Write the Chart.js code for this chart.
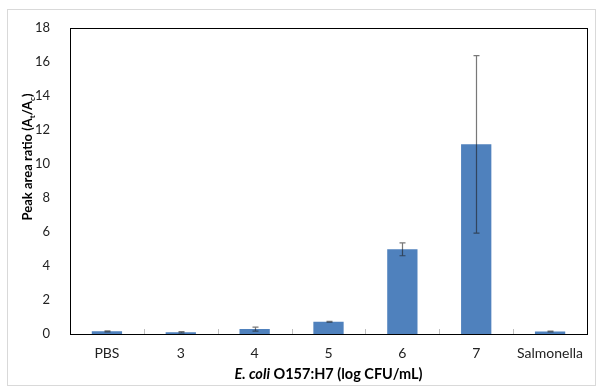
<!DOCTYPE html>
<html>
<head>
<meta charset="utf-8">
<script src="https://cdn.jsdelivr.net/npm/chart.js@4"></script>
<style>
  html, body { margin: 0; padding: 0; background: #fff; }
  #wrap { position: relative; width: 602px; height: 387px; }
  #frame { position: absolute; left: 7px; top: 9px; width: 589px; height: 377px; border: 1px solid #d9d9d9; box-sizing: border-box; }
  canvas { position: absolute; left: 0; top: 0; }
</style>
</head>
<body>
<div id="wrap">
  <div id="frame"></div>
  <canvas id="chart" width="602" height="387"></canvas>
</div>
<script>
// data
const categories = ['PBS', '3', '4', '5', '6', '7', 'Salmonella'];
const ratioValues = [0.16, 0.1, 0.29, 0.72, 4.98, 11.15, 0.15];
const ratioErrors = [0.03, 0.04, 0.12, 0.03, 0.38, 5.22, 0.02];
const yTicks = [0, 2, 4, 6, 8, 10, 12, 14, 16, 18];

const FONT = 'Lato, "Open Sans", sans-serif';

// error bars + box + little category ticks + axis titles
const extras = {
    id: 'extras',
    afterDatasetsDraw(chart) {
        const ctx = chart.ctx;
        const y = chart.scales.y;
        const meta = chart.getDatasetMeta(0);
        ctx.save();
        ctx.strokeStyle = 'rgba(30,30,30,0.6)';
        ctx.lineWidth = 1.2;
        meta.data.forEach((bar, i) => {
            const cx = Math.round(bar.x) + 0.5;
            const top = y.getPixelForValue(ratioValues[i] + ratioErrors[i]);
            const bot = y.getPixelForValue(ratioValues[i] - ratioErrors[i]);
            ctx.beginPath();
            ctx.moveTo(cx, top); ctx.lineTo(cx, bot);
            ctx.moveTo(cx - 3, top); ctx.lineTo(cx + 3, top);
            ctx.moveTo(cx - 3, bot); ctx.lineTo(cx + 3, bot);
            ctx.stroke();
        });
        ctx.restore();
    },
    afterDraw(chart) {
        const ctx = chart.ctx;
        const a = chart.chartArea;
        const x = chart.scales.x;
        ctx.save();
        // small ticks between categories
        ctx.strokeStyle = '#bfbfbf';
        ctx.lineWidth = 1;
        for (let i = 1; i < categories.length; i++) {
            const px = Math.round((x.getPixelForValue(i - 1) + x.getPixelForValue(i)) / 2) + 0.5;
            ctx.beginPath();
            ctx.moveTo(px, a.bottom - 5);
            ctx.lineTo(px, a.bottom);
            ctx.stroke();
        }
        // plot box
        ctx.strokeStyle = '#000';
        ctx.lineWidth = 1;
        ctx.strokeRect(Math.round(a.left) + 0.5, Math.round(a.top) + 0.5,
            Math.round(a.right - a.left), Math.round(a.bottom - a.top));

        // y title with subscripts, rotated
        ctx.fillStyle = '#000';
        ctx.translate(27, 157);
        ctx.rotate(-Math.PI / 2);
        const big = 'bold 13px ' + FONT, small = 'bold 8px ' + FONT;
        const parts = [
            ['Peak area ratio (A', big, 0], ['t', small, 4],
            ['/A', big, 0], ['c', small, 4], [')', big, 0]
        ];
        let w = 0;
        parts.forEach(p => { ctx.font = p[1]; w += ctx.measureText(p[0]).width; });
        let px = -w / 2;
        ctx.textBaseline = 'middle';
        parts.forEach(p => {
            ctx.font = p[1];
            ctx.fillText(p[0], px, p[2] + 1);
            px += ctx.measureText(p[0]).width;
        });
        ctx.setTransform(1, 0, 0, 1, 0, 0);

        // x title: italic species name
        const t1 = 'E. coli', t2 = ' O157:H7 (log CFU/mL)';
        const f1 = 'italic bold 14.5px ' + FONT, f2 = 'bold 14.5px ' + FONT;
        ctx.font = f1; const w1 = ctx.measureText(t1).width;
        ctx.font = f2; const w2 = ctx.measureText(t2).width;
        const sx = (a.left + a.right) / 2 - (w1 + w2) / 2;
        ctx.textBaseline = 'middle';
        ctx.font = f1; ctx.fillText(t1, sx, 374);
        ctx.font = f2; ctx.fillText(t2, sx + w1, 374);
        ctx.restore();
    }
};

new Chart(document.getElementById('chart'), {
    type: 'bar',
    data: {
        labels: categories,
        datasets: [{
            data: ratioValues,
            backgroundColor: '#4F81BD',
            borderWidth: 0,
            barPercentage: 0.41,
            categoryPercentage: 1
        }]
    },
    options: {
        responsive: false,
        animation: false,
        layout: { padding: { left: 0, right: 15, top: 23, bottom: 0 } },
        plugins: { legend: { display: false }, tooltip: { enabled: false } },
        scales: {
            x: {
                grid: { display: false, drawTicks: false },
                border: { display: false },
                ticks: { color: '#222', font: { family: FONT, size: 14 }, padding: 11 },
                afterFit(s) { s.height = 53; }
            },
            y: {
                min: 0, max: 18,
                afterBuildTicks(s) { s.ticks = yTicks.map(v => ({ value: v })); },
                grid: { display: false, drawTicks: false },
                border: { display: false },
                ticks: { color: '#222', font: { family: FONT, size: 13 }, padding: 20 },
                afterFit(s) { s.width = 70; }
            }
        }
    },
    plugins: [extras]
});
</script>
</body>
</html>
